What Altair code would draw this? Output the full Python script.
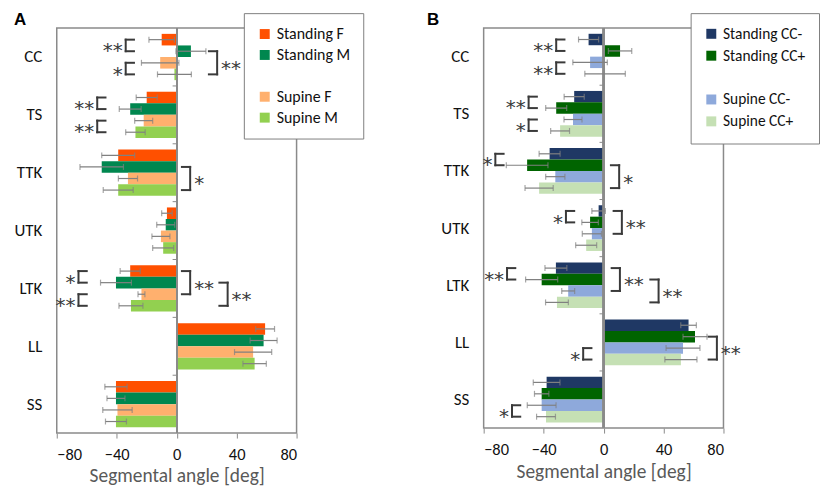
import json
import altair as alt
import pandas as pd

FONT = "Carlito, Lato, sans-serif"
STAR_FONT = "DejaVu Sans"
CATS = ["CC", "TS", "TTK", "UTK", "LTK", "LL", "SS"]

# ---------------- Panel A ----------------
A_SERIES = ["Standing F", "Standing M", "Supine F", "Supine M"]
A_COLORS = ["#FF5000", "#00874F", "#FFB06E", "#92D050"]
A_STAND_F = [-10, -20, -39, -6.5, -31, 59, -40.5]
A_STAND_F_SD = [8.5, 7, 11, 3.5, 6.7, 6.3, 7.4]
A_STAND_M = [9.5, -31, -50, -7.3, -40.5, 58, -40.5]
A_STAND_M_SD = [10, 7.3, 14.5, 6, 10.3, 9, 6]
A_SUP_F = [-11, -22, -32.5, -10.5, -23.5, 51, -39.5]
A_SUP_F_SD = [12.5, 6, 6.4, 6, 2.3, 12.4, 9.8]
A_SUP_M = [-1.5, -27.5, -39, -9, -30.5, 52, -40.5]
A_SUP_M_SD = [11.3, 6.5, 10, 7, 8, 7.8, 7]

# significance brackets: category, first bar, last bar, x [deg], side, label
A_BR_CAT = [0, 0, 0, 1, 1, 2, 4, 4, 4, 4]
A_BR_FROM = [0, 2, 1, 0, 2, 1, 0, 2, 0, 1]
A_BR_TO = [1, 3, 3, 1, 3, 3, 1, 3, 2, 3]
A_BR_X = [-34, -34, 27, -53, -53, 9, -65.5, -65.5, 9, 34]
A_BR_SIDE = ["L", "L", "R", "L", "L", "R", "L", "L", "R", "R"]
A_BR_LAB = ["**", "*", "**", "**", "**", "*", "*", "**", "**", "**"]

# ---------------- Panel B ----------------
B_SERIES = ["Standing CC-", "Standing CC+", "Supine CC-", "Supine CC+"]
B_COLORS = ["#1F3864", "#006400", "#8EA9DB", "#C5E0B4"]
B_STAND_N = [-10, -19.6, -36, -3.3, -31.8, 56.7, -38]
B_STAND_N_SD = [6.7, 6.7, 7, 4.5, 7.3, 5.2, 8.9]
B_STAND_P = [11, -31.6, -51, -9, -41.3, 61, -41.3]
B_STAND_P_SD = [7.8, 7, 13.9, 5.5, 10.7, 8, 4.8]
B_SUP_N = [-9, -20.4, -32.2, -7.8, -23.6, 53, -41.3]
B_SUP_N_SD = [11.5, 6, 6.4, 6.4, 4.3, 11.3, 9.6]
B_SUP_P = [1, -29, -43, -11.6, -31.1, 51.6, -38.4]
B_SUP_P_SD = [13.5, 6.3, 9.4, 7, 7.6, 10.7, 6.3]

B_BR_CAT = [0, 0, 1, 1, 2, 2, 3, 3, 4, 4, 4, 5, 5, 6]
B_BR_FROM = [0, 2, 0, 2, 0, 1, 0, 0, 0, 0, 1, 2, 1, 2]
B_BR_TO = [1, 3, 1, 3, 1, 3, 1, 2, 1, 2, 3, 3, 3, 3]
B_BR_X = [-31.6, -31.6, -50, -50, -72.2, 10.4, -25.1, 12.2, -64.4, 10.9, 36.7, -13.6, 75.6, -61.1]
B_BR_SIDE = ["L", "L", "L", "L", "L", "R", "L", "R", "L", "R", "R", "L", "R", "L"]
B_BR_LAB = ["**", "**", "**", "*", "*", "*", "*", "**", "**", "**", "**", "*", "**", "*"]

X_TICKS = [-80, -40, 0, 40, 80]
X_TITLE = "Segmental angle [deg]"

BAR = 0.2      # bar thickness in category units
ARM = 5.5      # bracket arm length in deg
GREY = "#8a8a8a"
INK = "#3a3a3a"


def pos(ci, si):
    return ci + (si - 1.5) * BAR


def make_panel(letter, series, colors, vals, sds, br, height, legend_x, letter_x,
               title_pad, leg_font, leg_pad, leg_row):
    rows = []
    for si, (name, v, s) in enumerate(zip(series, vals, sds)):
        for ci, cat in enumerate(CATS):
            p = pos(ci, si)
            rows.append(dict(cat=cat, series=name, value=v[ci], sd=s[ci],
                             pos=p, ylo=p - BAR / 2, yhi=p + BAR / 2,
                             lo=v[ci] - s[ci], hi=v[ci] + s[ci], zero=0))
    df = pd.DataFrame(rows)

    brows = []
    for c, a, b, x, side, lab in zip(*br):
        y1, y2 = pos(c, a), pos(c, b)
        brows.append(dict(x=x, xa=x + ARM if side == "L" else x - ARM,
                          y1=y1, y2=y2, ym=(y1 + y2) / 2, side=side, lab=lab))
    bdf = pd.DataFrame(brows)

    bounds = pd.DataFrame({"b": [i + 0.5 for i in range(len(CATS) - 1)],
                           "x0": -2.7, "zero": 0})

    xscale = alt.Scale(domain=[-80, 80], nice=False, zero=False)
    yscale = alt.Scale(domain=[-0.5, len(CATS) - 0.5], reverse=True, nice=False, zero=False)
    xaxis = alt.Axis(values=X_TICKS, grid=False, domain=False, ticks=True, tickSize=5,
                     tickColor=GREY, labelFontSize=16.5, labelFont=FONT, labelColor="#111",
                     labelPadding=9, title=X_TITLE, titleFontSize=19.5, titleFont=FONT,
                     titleFontWeight="normal", titleColor="#595959", titlePadding=title_pad)
    label_expr = json.dumps(CATS) + "[datum.value]"
    yaxis = alt.Axis(values=list(range(len(CATS))), labelExpr=label_expr, ticks=False,
                     domain=False, grid=False, labelFontSize=17, labelFont=FONT,
                     labelColor="#111", labelPadding=15, title=None)

    def X(f):
        return alt.X(f, type="quantitative", scale=xscale, axis=xaxis, title=X_TITLE)

    def Y(f):
        return alt.Y(f, type="quantitative", scale=yscale, axis=yaxis, title=None)

    dom = series[:2] + [" "] + series[2:]
    rng = colors[:2] + ["#ffffff"] + colors[2:]
    legend = alt.Legend(title=None, orient="none", legendX=legend_x, legendY=-15,
                        symbolType="square", symbolSize=100, symbolStrokeWidth=0,
                        labelFontSize=leg_font, labelFont=FONT, labelColor="#111",
                        strokeColor="#7f7f7f", fillColor="white", padding=leg_pad,
                        rowPadding=leg_row, labelOffset=4, values=dom)

    base = alt.Chart(df)
    bars = base.mark_rect().encode(
        x=X("zero"), x2="value", y=Y("ylo"), y2="yhi",
        color=alt.Color("series:N", scale=alt.Scale(domain=dom, range=rng), legend=legend),
    )
    zero_line = base.mark_rule(color=GREY, strokeWidth=1.3).encode(x=X("zero"))
    bticks = alt.Chart(bounds).mark_rule(color=GREY, strokeWidth=1).encode(
        x=X("x0"), x2="zero", y=Y("b"))
    err = base.mark_rule(color="#808080", strokeWidth=1.2).encode(x=X("lo"), x2="hi", y=Y("pos"))
    cap_lo = base.mark_tick(color="#808080", orient="vertical", size=6, thickness=1.2).encode(
        x=X("lo"), y=Y("pos"))
    cap_hi = base.mark_tick(color="#808080", orient="vertical", size=6, thickness=1.2).encode(
        x=X("hi"), y=Y("pos"))

    bb = alt.Chart(bdf)
    bv = bb.mark_rule(color=INK, strokeWidth=2, strokeCap="square").encode(
        x=X("x"), y=Y("y1"), y2="y2")
    bt = bb.mark_rule(color=INK, strokeWidth=2, strokeCap="square").encode(
        x=X("x"), x2="xa", y=Y("y1"))
    bbm = bb.mark_rule(color=INK, strokeWidth=2, strokeCap="square").encode(
        x=X("x"), x2="xa", y=Y("y2"))
    tl = bb.transform_filter("datum.side == 'L'").mark_text(
        align="right", baseline="middle", dx=-3, dy=6, fontSize=20, font=STAR_FONT, color=INK
    ).encode(x=X("x"), y=Y("ym"), text="lab:N")
    tr = bb.transform_filter("datum.side == 'R'").mark_text(
        align="left", baseline="middle", dx=4, dy=6, fontSize=20, font=STAR_FONT, color=INK
    ).encode(x=X("x"), y=Y("ym"), text="lab:N")

    let = alt.Chart(pd.DataFrame({"t": [letter]})).mark_text(
        align="left", baseline="top", fontSize=17, fontWeight="bold",
        font="Liberation Sans", color="#000"
    ).encode(text="t:N", x=alt.value(letter_x), y=alt.value(-16.5))

    return alt.layer(bars, zero_line, bticks, err, cap_lo, cap_hi, bv, bt, bbm, tl, tr, let
                     ).properties(width=241, height=height)


pa = make_panel("A", A_SERIES, A_COLORS,
                [A_STAND_F, A_STAND_M, A_SUP_F, A_SUP_M],
                [A_STAND_F_SD, A_STAND_M_SD, A_SUP_F_SD, A_SUP_M_SD],
                (A_BR_CAT, A_BR_FROM, A_BR_TO, A_BR_X, A_BR_SIDE, A_BR_LAB),
                407, 188, -43, 3, 16, 13, 5)
pb = make_panel("B", B_SERIES, B_COLORS,
                [B_STAND_N, B_STAND_P, B_SUP_N, B_SUP_P],
                [B_STAND_N_SD, B_STAND_P_SD, B_SUP_N_SD, B_SUP_P_SD],
                (B_BR_CAT, B_BR_FROM, B_BR_TO, B_BR_X, B_BR_SIDE, B_BR_LAB),
                402, 208, -57, 4, 15.5, 13, 5)

chart = alt.hconcat(pa, pb, spacing=188, bounds="flush").resolve_scale(
    color="independent"
).configure_view(
    stroke=GREY, strokeWidth=1.5
).properties(padding={"left": 5, "top": 0, "right": 0, "bottom": 0}, background="white")

chart.save("out.html", embed_options={"renderer": "svg", "actions": False})
